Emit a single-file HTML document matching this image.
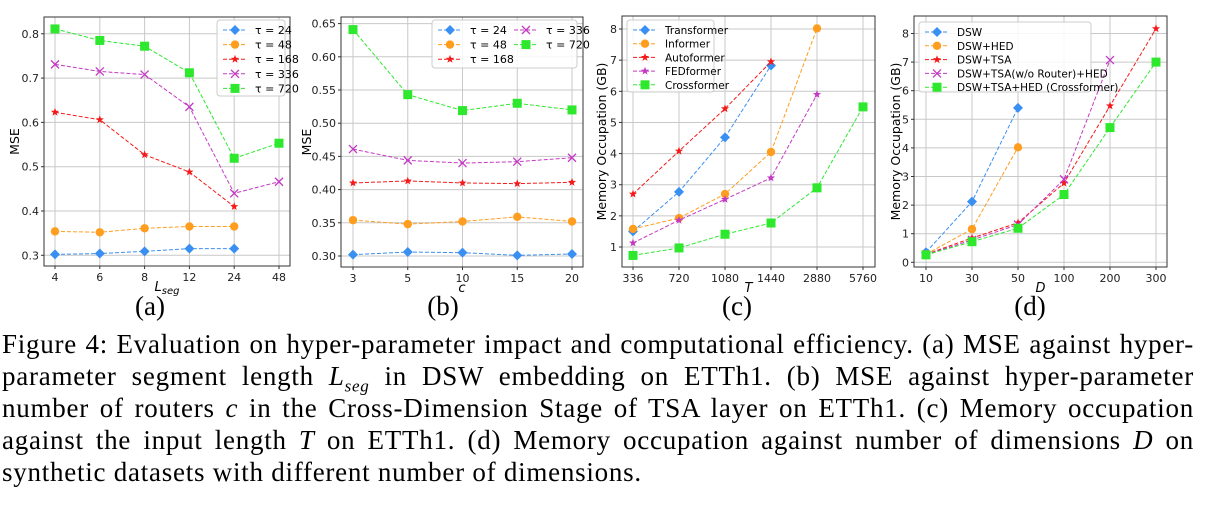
<!DOCTYPE html>
<html><head><meta charset="utf-8"><style>
body{margin:0;background:#fff;width:1205px;height:506px;overflow:hidden;position:relative}
svg{position:absolute;left:0;top:0}
.cap{position:absolute;left:2px;width:1192px;font-family:"Liberation Serif",serif;font-size:27px;letter-spacing:0.75px;line-height:32px;text-align:justify;text-align-last:justify;white-space:nowrap}
.sub{position:absolute;top:291px;font-family:"Liberation Serif",serif;font-size:27px;transform:translateX(-50%)}
</style></head><body>
<svg id="fig" width="1205" height="320"></svg>
<div class="sub" style="left:150px">(a)</div>
<div class="sub" style="left:443px">(b)</div>
<div class="sub" style="left:737px">(c)</div>
<div class="sub" style="left:1030px">(d)</div>
<div>
<div class="cap" style="top:328px">Figure 4: Evaluation on hyper-parameter impact and computational efficiency. (a) MSE against hyper-</div>
<div class="cap" style="top:360px">parameter segment length <i>L<sub style="font-size:17px">seg</sub></i> in DSW embedding on ETTh1. (b) MSE against hyper-parameter</div>
<div class="cap" style="top:392px">number of routers <i>c</i> in the Cross-Dimension Stage of TSA layer on ETTh1. (c) Memory occupation</div>
<div class="cap" style="top:424px">against the input length <i>T</i> on ETTh1. (d) Memory occupation against number of dimensions <i>D</i> on</div>
<div class="cap" style="top:456px;text-align-last:left">synthetic datasets with different number of dimensions.</div>
</div>
<script>
const aCats=["4","6","8","12","24","48"];
const aS24=[0.302,0.304,0.309,0.315,0.315];
const aS48=[0.354,0.352,0.361,0.365,0.365];
const aS168=[0.623,0.606,0.527,0.488,0.410];
const aS336=[0.731,0.715,0.708,0.635,0.440,0.466];
const aS720=[0.811,0.785,0.772,0.712,0.519,0.553];
const aTicks=[0.3,0.4,0.5,0.6,0.7,0.8];
const bCats=["3","5","10","15","20"];
const bS24=[0.302,0.306,0.305,0.301,0.303];
const bS48=[0.354,0.348,0.352,0.359,0.352];
const bS168=[0.410,0.413,0.410,0.409,0.411];
const bS336=[0.461,0.444,0.440,0.442,0.448];
const bS720=[0.641,0.543,0.519,0.530,0.520];
const bTicks=["0.30","0.35","0.40","0.45","0.50","0.55","0.60","0.65"];
const cCats=["336","720","1080","1440","2880","5760"];
const cTrans=[1.5,2.77,4.52,6.83];
const cInf=[1.58,1.93,2.70,4.05,8.02];
const cAuto=[2.70,4.08,5.44,6.95];
const cFed=[1.13,1.86,2.53,3.22,5.90];
const cCross=[0.73,0.97,1.41,1.77,2.90,5.50];
const cTicks=[1,2,3,4,5,6,7,8];
const dCats=["10","30","50","100","200","300"];
const dDsw=[0.35,2.12,5.40];
const dHed=[0.28,1.16,4.02];
const dTsa=[0.28,0.85,1.38,2.77,5.47,8.17];
const dNoR=[0.27,0.78,1.32,2.90,7.07];
const dCross=[0.26,0.72,1.19,2.37,4.71,7.00];
const dTicks=[0,1,2,3,4,5,6,7,8];

const C={b:"#3a8ff2",o:"#ff9d1f",r:"#f51a1a",m:"#c43ac4",g:"#2ee82e"};
const NS="http://www.w3.org/2000/svg";
const svg=document.getElementById('fig');
function el(t,a,p){const e=document.createElementNS(NS,t);for(const k in a)e.setAttribute(k,a[k]);(p||svg).appendChild(e);return e;}
function marker(g,type,x,y,col){
  let m;
  if(type==='D'){m=el('polygon',{points:`${x},${y-5} ${x+5},${y} ${x},${y+5} ${x-5},${y}`,fill:col},g);}
  else if(type==='o'){m=el('circle',{cx:x,cy:y,r:4.2,fill:col},g);}
  else if(type==='s'){m=el('rect',{x:x-4.5,y:y-4.5,width:9,height:9,fill:col},g);}
  else if(type==='*'){let p=[];for(let i=0;i<10;i++){const r=i%2?1.8:4.3,a=-Math.PI/2+i*Math.PI/5;p.push((x+r*Math.cos(a)).toFixed(1)+','+(y+r*Math.sin(a)).toFixed(1));}m=el('polygon',{points:p.join(' '),fill:col},g);}
  else {m=el('path',{d:`M${x-4},${y-4}L${x+4},${y+4}M${x-4},${y+4}L${x+4},${y-4}`,stroke:col,'stroke-width':1.3,fill:'none'},g);}
  
  
}
function panel(p){
  const g=el('g',{});
  
  
  const X=i=>p.x0+i*p.dx, Y=v=>p.y0-(v-p.v0)*p.k;
  p.cats.forEach((c,i)=>{
    el('line',{x1:X(i),x2:X(i),y1:p.top,y2:p.bot,stroke:'#c8c8c8','stroke-width':1},g);
    el('line',{x1:X(i),x2:X(i),y1:p.bot,y2:p.bot+3,stroke:'#333'},g);
    const t=el('text',{x:X(i),y:p.bot+15,'text-anchor':'middle','font-size':11,'font-family':'DejaVu Sans,sans-serif',fill:'#222'},g);t.textContent=c;
    
  });
  p.ticks.forEach(tv=>{
    const v=parseFloat(tv);
    el('line',{x1:p.left,x2:p.right,y1:Y(v),y2:Y(v),stroke:'#c8c8c8'},g);
    el('line',{x1:p.left-3,x2:p.left,y1:Y(v),y2:Y(v),stroke:'#333'},g);
    const t=el('text',{x:p.left-5,y:Y(v)+4,'text-anchor':'end','font-size':11,'font-family':'DejaVu Sans,sans-serif',fill:'#222'},g);t.textContent=tv;
    
  });
  el('rect',{x:p.left,y:p.top,width:p.right-p.left,height:p.bot-p.top,fill:'none',stroke:'#333','stroke-width':1},g);
  p.series.forEach(s=>{
    const pts=s.v.map((v,i)=>X(i)+','+Y(v)).join(' ');
    const l=el('polyline',{points:pts,fill:'none',stroke:s.c,'stroke-width':1,'stroke-dasharray':'4,2'},g);
    
    s.v.forEach((v,i)=>marker(g,s.m,X(i),Y(v),s.c));
  });
  const yl=el('text',{x:p.ylx,y:(p.top+p.bot)/2,'text-anchor':'middle','font-size':12.5,'font-family':'DejaVu Sans,sans-serif',transform:`rotate(-90 ${p.ylx} ${(p.top+p.bot)/2})`},g);yl.textContent=p.ylab;
  
  const xl=el('text',{x:(p.left+p.right)/2,y:p.bot+25,'text-anchor':'middle','font-size':13,'font-style':'italic','font-family':'DejaVu Sans,sans-serif'},g);xl.innerHTML=p.xlab;
  
  const L=p.leg;
  const lg=el('g',{},g);
  
  el('rect',{x:L.x,y:L.y,width:L.w,height:L.h,rx:3,fill:'#fff','fill-opacity':0.85,stroke:'#ccc'},lg);
  const cols=L.cols||99, cw=L.cw||0;
  p.series.forEach((s,i)=>{
    const col=Math.floor(i/cols),row=i%cols;
    const lx=L.x+6+col*cw, ly=L.y+10+row*L.rh;
    el('line',{x1:lx,x2:lx+24,y1:ly,y2:ly,stroke:s.c,'stroke-dasharray':'4,2'},lg);
    marker(lg,s.m,lx+12,ly,s.c);
    const t=el('text',{x:lx+32,y:ly+4,'font-size':L.fs||11,'font-family':'DejaVu Sans,sans-serif'},lg);t.textContent=s.n;
    
  });
}
const T=n=>'\u03c4 = '+n;
panel({name:'panel-a-lseg',cats:aCats,ticks:aTicks.map(v=>v.toFixed(1)),x0:55,dx:44.8,v0:0.3,y0:255.3,k:443,left:44,right:290,top:17,bot:266,ylx:19,ylab:'MSE',
 xlab:'L<tspan font-size="10" dy="3">seg</tspan>',
 leg:{x:217,y:20,w:68,h:76,rh:14.6},
 series:[{n:T(24),v:aS24,c:C.b,m:'D'},{n:T(48),v:aS48,c:C.o,m:'o'},{n:T(168),v:aS168,c:C.r,m:'*'},{n:T(336),v:aS336,c:C.m,m:'x'},{n:T(720),v:aS720,c:C.g,m:'s'}]});
panel({name:'panel-b-routers',cats:bCats,ticks:bTicks,x0:353,dx:54.75,v0:0.3,y0:256,k:664,left:341,right:583,top:17,bot:267,ylx:311,ylab:'MSE',xlab:'c',
 leg:{x:432,y:20,w:145,h:48,rh:14.6,cols:3,cw:76},
 series:[{n:T(24),v:bS24,c:C.b,m:'D'},{n:T(48),v:bS48,c:C.o,m:'o'},{n:T(168),v:bS168,c:C.r,m:'*'},{n:T(336),v:bS336,c:C.m,m:'x'},{n:T(720),v:bS720,c:C.g,m:'s'}]});
panel({name:'panel-c-input-length',cats:cCats,ticks:cTicks.map(String),x0:633,dx:46,v0:1,y0:247,k:31.14,left:622,right:875,top:16,bot:267,ylx:606,ylab:'Memory Occupation (GB)',xlab:'T',
 leg:{x:627,y:20,w:87,h:72,rh:13.7,fs:10.5},
 series:[{n:'Transformer',v:cTrans,c:C.b,m:'D'},{n:'Informer',v:cInf,c:C.o,m:'o'},{n:'Autoformer',v:cAuto,c:C.r,m:'*'},{n:'FEDformer',v:cFed,c:C.m,m:'*'},{n:'Crossformer',v:cCross,c:C.g,m:'s'}]});
panel({name:'panel-d-dimensions',cats:dCats,ticks:dTicks.map(String),x0:926,dx:46,v0:0,y0:262.3,k:28.6,left:914,right:1167,top:16,bot:267,ylx:900,ylab:'Memory Occupation (GB)',xlab:'D',
 leg:{x:919,y:22,w:172,h:70,rh:13.8,fs:10.5},
 series:[{n:'DSW',v:dDsw,c:C.b,m:'D'},{n:'DSW+HED',v:dHed,c:C.o,m:'o'},{n:'DSW+TSA',v:dTsa,c:C.r,m:'*'},{n:'DSW+TSA(w/o Router)+HED',v:dNoR,c:C.m,m:'x'},{n:'DSW+TSA+HED (Crossformer)',v:dCross,c:C.g,m:'s'}]});
</script>
</body></html>
